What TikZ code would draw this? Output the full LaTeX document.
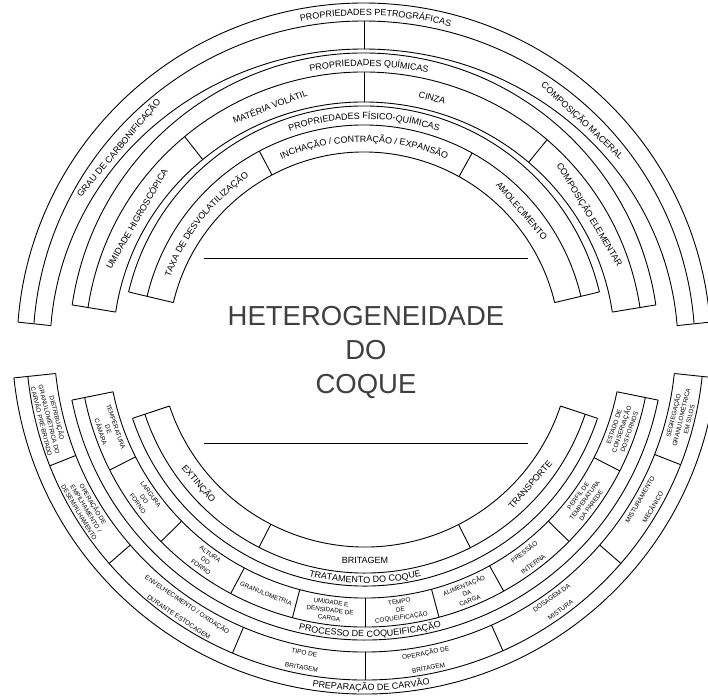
\documentclass[tikz,border=0pt]{standalone}
\usepackage{fontspec}
\setmainfont{Liberation Sans}
\usetikzlibrary{decorations.text}

\newcommand{\lblfont}{\fontsize{9}{10}\selectfont}
% text on an upper arc: x radius, y radius, middle angle, text
\newcommand{\toptext}[4]{%
  \path[decorate,decoration={text along path,text align=center,text={|\lblfont|#4}}]
    ({#3+40}:#1 and #2) arc[start angle={#3+40},end angle={#3-40},x radius=#1,y radius=#2];}
% text on a lower arc: radius, middle angle, text
\newcommand{\bottext}[3]{%
  \path[decorate,decoration={text along path,text align=center,text={|\lblfont|#3}}]
    ({#2-40}:#1) arc[start angle={#2-40},end angle={#2+40},radius=#1];}

\begin{document}
\begin{tikzpicture}[x=1pt,y=1pt,line width=0.9pt,
    band/.style={font=\lblfont,inner sep=0pt},
    cell/.style={font=\fontsize{6.3}{8}\selectfont,align=center,inner sep=0pt},
    cellwide/.style={cell,font=\fontsize{6.5}{15}\selectfont},
    title/.style={font=\fontsize{27.5}{34}\selectfont,align=center,text=black!75}]
  \useasboundingbox (0,0) rectangle (708,-695);
  \clip (0,0) rectangle (708,-695);

  \begin{scope}[shift={(364,-348)}]
    \foreach \rx/\ry in {347/345,331/327,314/299}
      \draw ({\rx*cos(175.7)},{\ry*sin(175.7)}) arc[start angle=175.7,end angle=4.3,x radius=\rx,y radius=\ry];
    \foreach \a in {175.7,4.3}
      \draw (\a:347 and 345) -- (\a:314 and 299);
    \draw (90:331 and 327) -- (90:314 and 299);

    \foreach \rx/\ry in {295/295,279/276,251/246}
      \draw ({\rx*cos(171.6)},{\ry*sin(171.6)}) arc[start angle=171.6,end angle=8.4,x radius=\rx,y radius=\ry];
    \foreach \a in {171.6,8.4}
      \draw (\a:295 and 295) -- (\a:251 and 246);
    \foreach \a in {130,90,49}
      \draw (\a:279 and 276) -- (\a:251 and 246);

    \foreach \r in {242,223,196}
      \draw (166.6:\r) arc[start angle=166.6,end angle=13.4,radius=\r];
    \foreach \a in {166.6,13.4}
      \draw (\a:242) -- (\a:196);
    \foreach \a in {118,61}
      \draw (\a:223) -- (\a:196);

    \toptext{335.5}{332.5}{88}{PROPRIEDADES PETROGRÁFICAS}
    \toptext{283.5}{282}{89}{PROPRIEDADES QUÍMICAS}
    \toptext{229}{229}{90}{PROPRIEDADES FÍSICO-QUÍMICAS}
    \toptext{206}{206}{142}{TAXA DE DESVOLATILIZAÇÃO}
    \toptext{206}{206}{90}{INCHAÇÃO / CONTRAÇÃO / EXPANSÃO}

    \node[band,rotate=50] (grau) at (140:320 and 311) {GRAU DE CARBONIFICAÇÃO};
    \node[band,rotate=-43] (maceral) at (47:320 and 311) {COMPOSIÇÃO MACERAL};
    \node[band,rotate=60] (higrosc) at (150:263 and 259) {UMIDADE HIGROSCÓPICA};
    \node[band,rotate=21] (volatil) at (111:263 and 259) {MATÉRIA VOLÁTIL};
    \node[band,rotate=-15] (cinza) at (75:263 and 259) {CINZA};
    \node[band,rotate=-59] (elementar) at (31:263 and 259) {COMPOSIÇÃO ELEMENTAR};
    \node[band,rotate=-49] (amolec) at (41:209) {AMOLECIMENTO};
  \end{scope}

  \draw (204,-258) -- (528,-258);
  \node[title] (heterog) at (366,-352) {HETEROGENEIDADE\\DO\\COQUE};
  \draw (204,-443) -- (528,-443);

  \begin{scope}[shift={(365,-341)}]
    \foreach \r in {353,339,311}
      \draw (186:\r) arc[start angle=186,end angle=354,radius=\r];
    \foreach \a in {186,354}
      \draw (\a:353) -- (\a:311);
    \foreach \a in {201.6,221,247,270,294,319,338.6}
      \draw (\a:339) -- (\a:311);

    \foreach \r in {299,286,257}
      \draw (191.4:\r) arc[start angle=191.4,end angle=348.6,radius=\r];
    \foreach \a in {191.4,348.6}
      \draw (\a:299) -- (\a:257);
    \foreach \a in {206.8,224.5,242,255.3,270,285,299,315.5,333}
      \draw (\a:286) -- (\a:257);

    \foreach \r in {245,232,206}
      \draw (198.4:\r) arc[start angle=198.4,end angle=341.6,radius=\r];
    \foreach \a in {198.4,341.6}
      \draw (\a:245) -- (\a:206);
    \foreach \a in {242.8,297}
      \draw (\a:232) -- (\a:206);

    \bottext{349.5}{271}{PREPARAÇÃO DE CARVÃO}
    \bottext{296}{271}{PROCESSO DE COQUEIFICAÇÃO}
    \bottext{242}{270}{TRATAMENTO DO COQUE}

    \node[band,rotate=-49.4] (extincao) at (220.6:219) {EXTINÇÃO};
    \node[band] (britagem) at (270:219) {BRITAGEM};
    \node[band,rotate=49] (transporte) at (319:219) {TRANSPORTE};

    \node[cell,rotate=-76] (distrib) at (194:325) {DISTRIBUIÇÃO\\GRANULOMÉTRICA DO\\CARVÃO PRÉ-BRITADO};
    \node[cell,rotate=-59] (empilh) at (211:325) {OPERAÇÃO DE\\EMPILHAMENTO /\\DESEMPILHAMENTO};
    \node[cellwide,rotate=-34] (envelh) at (236:325) {ENVELHECIMENTO / OXIDAÇÃO\\DURANTE ESTOCAGEM};
    \node[cellwide,rotate=-11] (tipobrit) at (259:325) {TIPO DE\\BRITAGEM};
    \node[cellwide,rotate=11] (opbrit) at (281:325) {OPERAÇÃO DE\\BRITAGEM};
    \node[cellwide,rotate=36] (dosagem) at (306:325) {DOSAGEM DA\\MISTURA};
    \node[cellwide,rotate=60] (misturam) at (330:325) {MISTURAMENTO\\MECÂNICO};
    \node[cell,rotate=76.4] (segreg) at (346.4:325) {SEGREGAÇÃO\\GRANULOMÉTRICA\\EM SILOS};

    \node[cell,rotate=-71] (tempcam) at (199:271.5) {TEMPERATURA\\DE\\CÂMARA};
    \node[cell,rotate=-54.4] (largura) at (215.6:271.5) {LARGURA\\DO\\FORNO};
    \node[cell,rotate=-36] (altura) at (234:271.5) {ALTURA\\DO\\FORNO};
    \node[cell,rotate=-21.4] (granul) at (248.6:271.5) {GRANULOMETRIA};
    \node[cell,rotate=-7.4] (umidade) at (262.6:271.5) {UMIDADE E\\DENSIDADE DE\\CARGA};
    \node[cell,rotate=7.5] (tempo) at (277.5:271.5) {TEMPO\\DE\\COQUEIFICAÇÃO};
    \node[cell,rotate=22] (aliment) at (292:271.5) {ALIMENTAÇÃO\\DA\\CARGA};
    \node[cellwide,rotate=37] (pressao) at (307:271.5) {PRESSÃO\\INTERNA};
    \node[cell,rotate=54] (perfil) at (324:271.5) {PERFIL DE\\TEMPERATURA\\DA PAREDE};
    \node[cell,rotate=71] (estado) at (341:271.5) {ESTADO DE\\CONSERVAÇÃO\\DOS FORNOS};
  \end{scope}
\end{tikzpicture}
\end{document}
